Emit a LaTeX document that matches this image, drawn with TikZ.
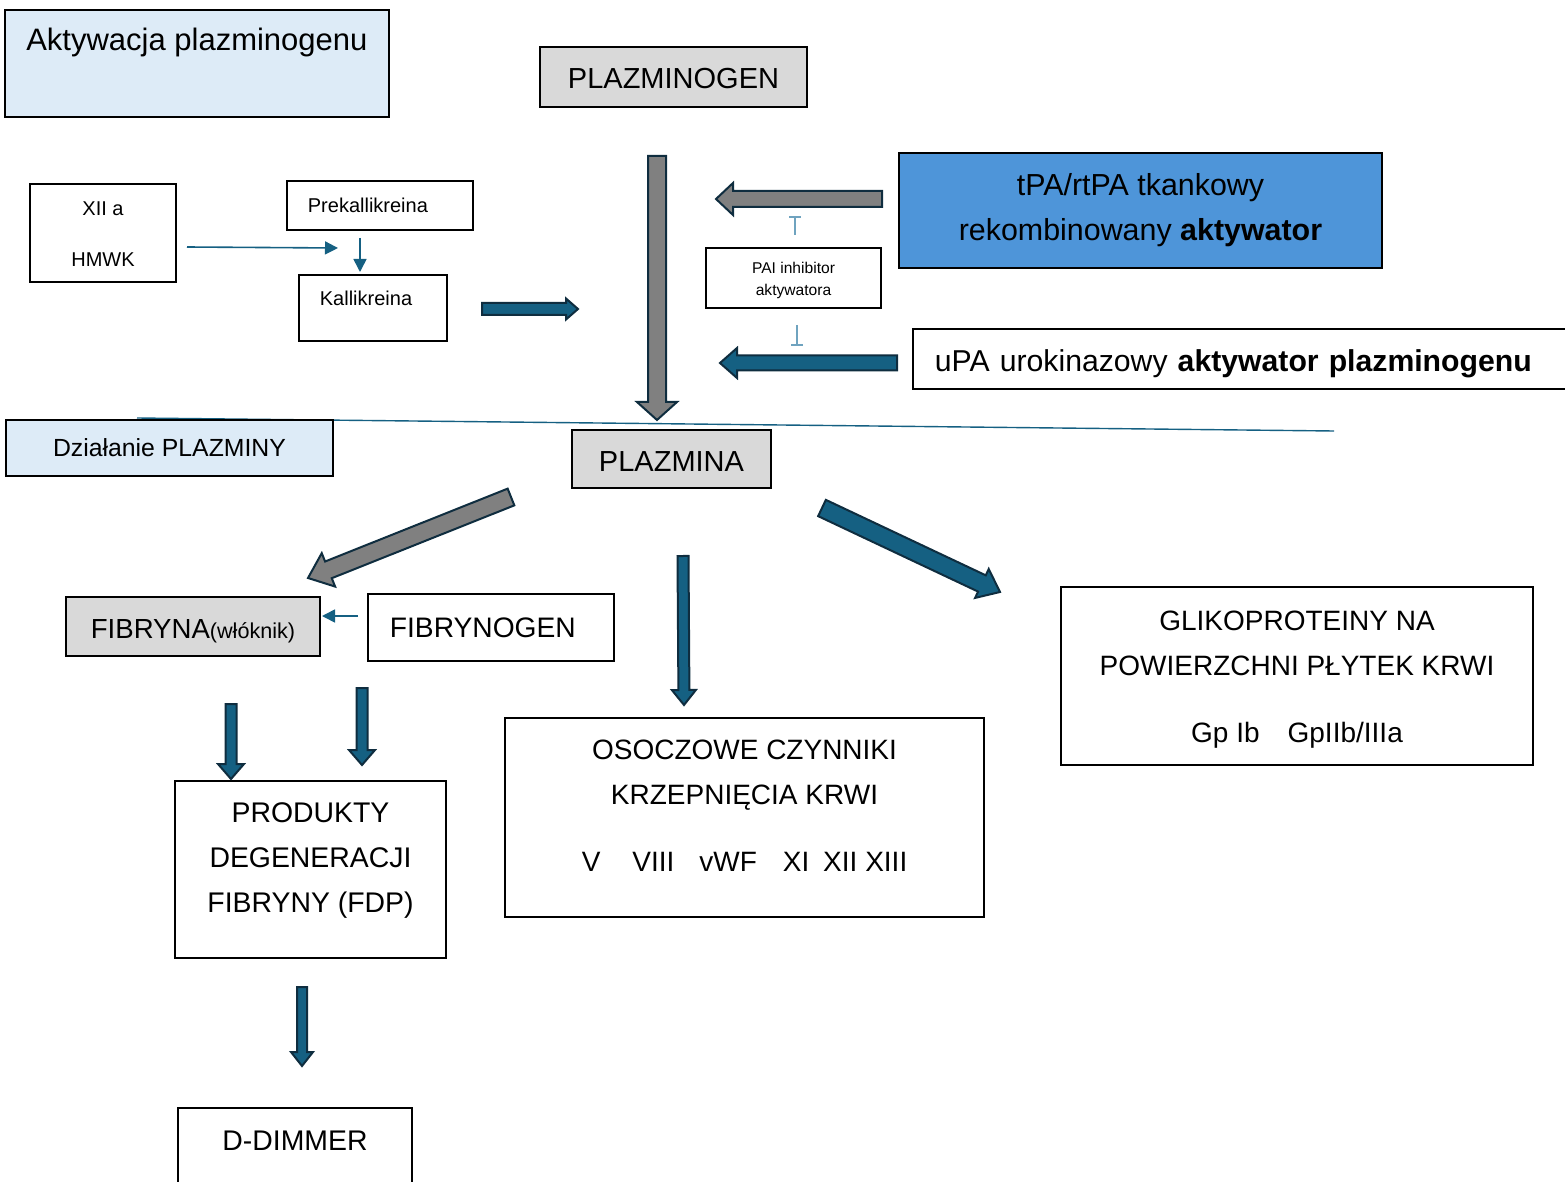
\documentclass[tikz,border=0pt]{standalone}
\usepackage{fontspec}
\setmainfont{Liberation Sans}
\usetikzlibrary{arrows.meta}
\usetikzlibrary{calc}
\definecolor{lightblue}{HTML}{DDEBF7}
\definecolor{boxgray}{HTML}{D9D9D9}
\definecolor{tpablue}{HTML}{4E95D9}
\definecolor{arrgray}{HTML}{808080}
\definecolor{arrteal}{HTML}{156082}
\definecolor{darkline}{HTML}{0F2D3F}
\definecolor{inhteal}{HTML}{6FA3BF}
\tikzstyle{box}=[draw=black, line width=0.9pt, inner sep=0pt, align=center,
                 font=\fontsize{14.5}{22.5}\selectfont]
\tikzstyle{bluebox}=[box, fill=lightblue]
\tikzstyle{graybox}=[box, fill=boxgray]
\tikzstyle{smallbox}=[box, font=\fontsize{10}{25.5}\selectfont]
\tikzstyle{thinarr}=[draw=arrteal, line width=0.8pt, -{Triangle[length=6.5pt,width=6.5pt]}]
\tikzstyle{inhib}=[draw=inhteal, line width=0.8pt, -{Bar[width=6pt]}]
\tikzstyle{arrline}=[draw=darkline, line width=1pt, line join=miter]
% block arrow: tail, tip, half shaft, half head, head length, colour
\newcommand{\blockarr}[6]{%
  \coordinate (hb) at ($(#2)!#5!(#1)$);
  \draw[arrline, fill=#6] ($(#1)!#3!90:(#2)$) -- ($(hb)!#3!90:(#2)$) --
    ($(hb)!#4!90:(#2)$) -- (#2) -- ($(hb)!#4!-90:(#2)$) --
    ($(hb)!#3!-90:(#2)$) -- ($(#1)!#3!-90:(#2)$) -- cycle;}
\begin{document}
\begin{tikzpicture}[x=0.5pt, y=-0.5pt]
    \clip (0,0) rectangle (1565,1182);
    % activation part
    \node[bluebox, anchor=north west, minimum width=192pt, text height=20.5pt,
          text depth=33pt, font=\fontsize{15.5}{18}\selectfont] (akt) at (4,9)
          {Aktywacja plazminogenu};
    \node[graybox, minimum width=133.5pt, text height=20.75pt, text depth=9.25pt]
          (plg) at (673.5,77) {PLAZMINOGEN};
    \node[smallbox, minimum width=73pt, text height=41.5pt, text depth=7.5pt]
          (xii) at (103,233) {XII a\\HMWK};
    \node[smallbox, anchor=west, inner xsep=10.5pt, text width=72pt, align=left,
          minimum height=24.5pt] (prek) at (286,205.5) {Prekallikreina};
    \node[smallbox, anchor=north west, inner xsep=10.5pt, text width=53pt, align=left,
          text height=15.5pt, text depth=17.5pt] (kal) at (298,274) {Kallikreina};
    \node[box, minimum width=87.5pt, text height=24pt, text depth=6pt,
          font=\fontsize{7.8}{11}\selectfont] (pai) at (793.5,278) {PAI inhibitor\\aktywatora};
    \node[box, fill=tpablue, minimum width=241.5pt, minimum height=57.5pt,
          font=\fontsize{15.2}{22.5}\selectfont] (tpa) at (1140.5,210.5)
          {tPA/rtPA tkankowy\\rekombinowany \textbf{aktywator}};
    \node[box, anchor=west, inner xsep=11pt, text width=332pt, align=left,
          text height=21.25pt, text depth=8.75pt, font=\fontsize{15.1}{18}\selectfont]
          (upa) at (912,359) {uPA urokinazowy \textbf{aktywator plazminogenu}};
    % separating line
    \coordinate (l1) at (137,418);
    \coordinate (l2) at (1334,431);
    \draw[arrteal, line width=0.7pt] (l1) -- (l2);
    % plasmin part
    \node[bluebox, minimum width=163.5pt, minimum height=28pt,
          font=\fontsize{12.4}{15}\selectfont] (dzi) at (169.5,448) {Działanie PLAZMINY};
    \node[graybox, minimum width=99.5pt, text height=20.75pt, text depth=8.25pt]
          (pla) at (671.5,459) {PLAZMINA};
    \node[graybox, minimum width=127pt, text height=20.5pt, text depth=9pt,
          font=\fontsize{13.8}{16}\selectfont] (fib) at (193,626.5)
          {FIBRYNA{\fontsize{10.8}{12}\selectfont(włóknik)}};
    \node[box, anchor=west, inner xsep=11pt, text width=101pt, align=left,
          minimum height=33.5pt, font=\fontsize{14.1}{16}\selectfont] (fbg) at (367,627.5) {FIBRYNOGEN};
    \node[box, minimum width=236pt, text height=77.5pt, text depth=11.5pt,
          font=\fontsize{14}{22.5}\selectfont] (gli) at (1297,676)
          {GLIKOPROTEINY NA\\POWIERZCHNI PŁYTEK KRWI\\[11pt]
          Gp Ib\hspace{14pt}GpIIb/IIIa};
    \node[box, anchor=north, minimum width=239.5pt, text height=77pt, text depth=22.5pt,
          font=\fontsize{14}{22.5}\selectfont] (oso) at (744.5,717)
          {OSOCZOWE CZYNNIKI\\KRZEPNIĘCIA KRWI\\[11pt]
          V\hspace{16pt}VIII\hspace{12.5pt}vWF\hspace{13pt}XI\hspace{3pt} XII XIII};
    \node[box, anchor=north, minimum width=135.5pt, text height=66pt, text depth=22.5pt,
          font=\fontsize{14.2}{22.5}\selectfont] (fdp) at (310.5,780)
          {PRODUKTY\\DEGENERACJI\\FIBRYNY (FDP)};
    \node[box, anchor=north, minimum width=117pt, text height=21.5pt, text depth=40pt,
          font=\fontsize{14.2}{16}\selectfont] (ddi) at (295,1107) {D-DIMMER};
    % free ends of the arrows
    \coordinate (s1) at (657,156);  \coordinate (e1) at (657,420);
    \coordinate (s2) at (882,199);  \coordinate (e2) at (716,199);
    \coordinate (s3) at (897,363);  \coordinate (e3) at (720,363);
    \coordinate (s4) at (482,309);  \coordinate (e4) at (578,309);
    \coordinate (s5) at (511,497);  \coordinate (e5) at (308,578);
    \coordinate (s6) at (683,556);  \coordinate (e6) at (684,705);
    \coordinate (s7) at (822,508);  \coordinate (e7) at (1000,592);
    \coordinate (s8) at (231,704);  \coordinate (e8) at (231,779);
    \coordinate (s9) at (362,688);  \coordinate (e9) at (362,765);
    \coordinate (s10) at (302,987); \coordinate (e10) at (302,1066);
    \foreach \ta/\tb/\hw/\hh/\hl/\col in {s1/e1/4.5pt/10pt/9pt/arrgray,
          s2/e2/4pt/8pt/8.5pt/arrgray, s3/e3/3.75pt/7.5pt/8.5pt/arrteal,
          s4/e4/3pt/5.25pt/6pt/arrteal, s5/e5/4.5pt/9pt/11pt/arrgray,
          s6/e6/2.75pt/6pt/7.5pt/arrteal, s7/e7/4.5pt/8pt/10pt/arrteal,
          s8/e8/2.75pt/6.5pt/7.5pt/arrteal, s9/e9/2.75pt/6.5pt/7.5pt/arrteal,
          s10/e10/2.5pt/5.5pt/7pt/arrteal}
      {\blockarr{\ta}{\tb}{\hw}{\hh}{\hl}{\col}}
    % thin arrows and inhibition
    \coordinate (k1) at (187,247); \coordinate (k2) at (338,248);
    \coordinate (k3) at (360,238); \coordinate (k4) at (360,272);
    \coordinate (f1) at (358,616); \coordinate (f2) at (322,616);
    \coordinate (p1) at (795,235); \coordinate (p2) at (795,216);
    \coordinate (p3) at (797,325); \coordinate (p4) at (797,346);
    \foreach \ta/\tb in {k1/k2, k3/k4, f1/f2}
      \draw[thinarr] (\ta) -- (\tb);
    \foreach \ta/\tb in {p1/p2, p3/p4}
      \draw[inhib] (\ta) -- (\tb);
\end{tikzpicture}
\end{document}
